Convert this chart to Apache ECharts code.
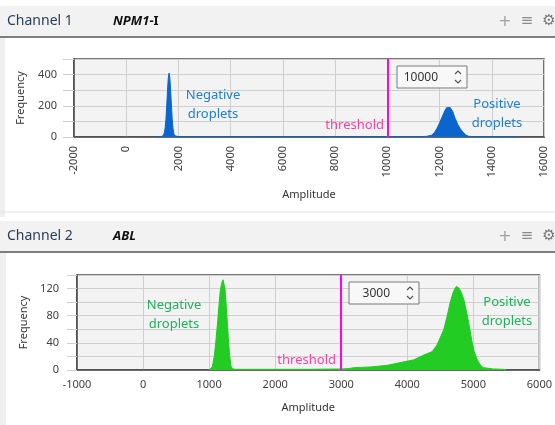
<!DOCTYPE html>
<html>
<head>
<meta charset="utf-8">
<script src="https://cdn.jsdelivr.net/npm/echarts@6/dist/echarts.min.js"></script>
<style>
  html, body { margin: 0; padding: 0; background: #ffffff; }
  #chart { width: 555px; height: 425px; }
</style>
</head>
<body>
<div id="chart"></div>
<script>
// Channel 1 (NPM1-I) histogram, amplitude vs frequency
const ch1Amplitude = [1150, 1250, 1350, 1400, 1430, 1460, 1490, 1520, 1550, 1580, 1610, 1640, 1670, 1700, 1730, 1760, 1790, 1820, 1850, 1900,
  2000, 3000, 4000, 5000, 6000, 7000, 8000, 9000, 10000, 11000, 11200, 11500, 11700, 11800, 11900, 12000, 12100, 12200, 12270, 12330,
  12400, 12500, 12600, 12700, 12800, 12900, 13000, 13100, 13300, 13600, 14000, 14500, 15000, 15050];
const ch1Frequency = [0, 1, 3, 6, 12, 28, 58, 112, 196, 296, 376, 410, 382, 300, 205, 118, 58, 24, 9, 3,
  2, 1.5, 1.5, 1, 1, 1, 1, 1, 1, 1.5, 2, 4, 12, 28, 55, 90, 130, 168, 188, 196,
  190, 165, 118, 80, 52, 30, 14, 5, 2, 1.5, 1, 1, 1, 0];
const ch1Threshold = 10000;

// Channel 2 (ABL)
const ch2Amplitude = [1000, 1020, 1050, 1080, 1100, 1130, 1150, 1170, 1190, 1210, 1225, 1240, 1255, 1270, 1290, 1310, 1330, 1350, 1400,
  2000, 2500, 3000, 3100, 3200, 3450, 3700, 3950, 4100, 4250, 4375, 4450, 4550, 4600, 4650, 4700, 4740, 4780, 4820, 4860,
  4900, 4940, 4975, 5010, 5050, 5100, 5150, 5300, 5450, 5500];
const ch2Frequency = [0, 1, 5, 22, 40, 72, 96, 118, 128, 133, 131, 120, 100, 78, 48, 22, 6, 2, 1,
  1, 1, 1.5, 2, 3.5, 4.5, 7, 12, 15, 22, 27, 37, 59, 78, 100, 116, 123, 121, 114, 102,
  84, 64, 44, 28, 17, 8, 3.5, 1.5, 1, 0];
const ch2Threshold = 3000;

// axis ranges
const ch1X = { min: -2000, max: 16000, step: 2000 };
const ch1Y = { min: 0, max: 500, step: 100, labelStep: 200 };
const ch2X = { min: -1000, max: 6000, step: 1000 };
const ch2Y = { min: 0, max: 140, step: 20, labelStep: 40 };

const FONT = "Noto Sans";
const gridColor = "#cfcfcf";
const axisColor = "#4a4a4a";
const labelColor = "#404040";

const zip = (xs, ys) => xs.map((x, i) => [x, ys[i]]);

function xAxisCfg(grid, r, rotate, nameGap, margin) {
    return {
        gridIndex: grid, type: "value", min: r.min, max: r.max, interval: r.step,
        name: "Amplitude", nameLocation: "middle", nameGap: nameGap,
        nameTextStyle: { fontSize: 11, color: "#333", fontFamily: FONT },
        axisLine: { show: true, onZero: false, lineStyle: { color: axisColor, width: 1.5 } },
        axisTick: { show: false },
        axisLabel: {
            rotate: rotate, fontSize: 11, color: labelColor, margin: margin, fontFamily: FONT,
            showMinLabel: true, showMaxLabel: true, formatter: (v) => String(v),
        },
        splitLine: { show: true, lineStyle: { color: gridColor, width: 1 } },
    };
}

function yAxisCfg(grid, r, tickLen, margin) {
    return {
        gridIndex: grid, type: "value", min: r.min, max: r.max, interval: r.step,
        name: "Frequency", nameLocation: "middle", nameGap: 48, nameRotate: 90,
        nameTextStyle: { fontSize: 11, color: "#333", fontFamily: FONT },
        axisLine: { show: true, onZero: false, lineStyle: { color: axisColor, width: 1.5 } },
        axisTick: { show: true, length: tickLen, lineStyle: { color: gridColor } },
        axisLabel: {
            fontSize: 11, color: labelColor, margin: margin, fontFamily: FONT,
            formatter: (v) => (v % r.labelStep === 0 ? String(v) : ""),
        },
        splitLine: { show: true, lineStyle: { color: gridColor, width: 1 } },
    };
}

function histSeries(idx, data, color, threshold) {
    return {
        type: "line", xAxisIndex: idx, yAxisIndex: idx, data: data,
        symbol: "none", smooth: false,
        lineStyle: { color: color, width: 1 },
        areaStyle: { color: color, opacity: 1 },
        markLine: {
            silent: true, symbol: "none", animation: false,
            label: { show: false },
            lineStyle: { color: "#ff00ff", width: 2, type: "solid" },
            data: [{ xAxis: threshold }],
        },
        z: 3,
    };
}

function header(y, h, title, gene) {
    return [
        { type: "rect", shape: { x: 0, y: y, width: 555, height: h }, style: { fill: "#f2f2f2" }, z: -5 },
        { type: "line", shape: { x1: 0, y1: y + h, x2: 555, y2: y + h }, style: { stroke: "#555", lineWidth: 1.5 }, z: -4 },
        { type: "text", x: 7, y: y + h / 2, style: { text: title, fontSize: 14, fill: "#2a3d5a", fontFamily: FONT, verticalAlign: "middle" } },
        {
            type: "text", x: 113, y: y + h / 2,
            style: {
                text: gene, verticalAlign: "middle", fontFamily: FONT,
                rich: {
                    i: { fontSize: 13, fontWeight: "bold", fontStyle: "italic", fill: "#111", fontFamily: FONT },
                    b: { fontSize: 13, fontWeight: "bold", fill: "#111", fontFamily: FONT },
                },
            },
        },
        { type: "text", x: 505, y: y + h / 2, style: { text: "+", fontSize: 16, fill: "#a0a0a0", align: "center", verticalAlign: "middle", fontFamily: "DejaVu Sans" } },
        { type: "text", x: 527, y: y + h / 2, style: { text: "≡", fontSize: 15, fill: "#8a8a8a", align: "center", verticalAlign: "middle", fontFamily: "DejaVu Sans" } },
        { type: "text", x: 549, y: y + h / 2, style: { text: "⚙", fontSize: 15, fill: "#777", align: "center", verticalAlign: "middle", fontFamily: "DejaVu Sans" } },
    ];
}

function spinner(x, y, value) {
    const cx = x + 61;
    return [
        { type: "rect", shape: { x: x, y: y, width: 70, height: 22 }, style: { fill: "#f8f8f8", stroke: "#7a7a7a", lineWidth: 1 }, z: 20 },
        { type: "text", x: x + 41, y: y + 11.5, style: { text: value, fontSize: 12, fill: "#333", align: "right", verticalAlign: "middle", fontFamily: FONT }, z: 21 },
        { type: "polyline", shape: { points: [[cx - 3, y + 8], [cx, y + 5], [cx + 3, y + 8]] }, style: { stroke: "#555", lineWidth: 1.2, fill: null }, z: 21 },
        { type: "polyline", shape: { points: [[cx - 3, y + 14], [cx, y + 17], [cx + 3, y + 14]] }, style: { stroke: "#555", lineWidth: 1.2, fill: null }, z: 21 },
    ];
}

function note(x, y, text, color, align) {
    return {
        type: "text", x: x, y: y, z: 20,
        style: { text: text, fontSize: 13, lineHeight: 19, fill: color, align: align, verticalAlign: "middle", fontFamily: FONT },
    };
}

const blue = "#0a66cc";
const blueText = "#1f80d2";
const green = "#22cc22";
const greenText = "#1fb05c";
const pink = "#ff3fa0";

const option = {
    animation: false,
    backgroundColor: "#ffffff",
    textStyle: { fontFamily: FONT },
    grid: [
        { left: 74, top: 59, width: 470, height: 78, show: true, backgroundColor: "#f3f3f3", borderColor: axisColor, borderWidth: 1.5 },
        { left: 77, top: 275, width: 466, height: 95, show: true, backgroundColor: "#f3f3f3", borderColor: axisColor, borderWidth: 1.5 },
    ],
    xAxis: [
        xAxisCfg(0, ch1X, 90, 52, 9),
        xAxisCfg(1, ch2X, 0, 32, 9),
    ],
    yAxis: [
        yAxisCfg(0, ch1Y, 11, 17),
        yAxisCfg(1, ch2Y, 10, 18),
    ],
    series: [
        histSeries(0, zip(ch1Amplitude, ch1Frequency), blue, ch1Threshold),
        histSeries(1, zip(ch2Amplitude, ch2Frequency), green, ch2Threshold),
    ],
    graphic: [
        { type: "rect", shape: { x: 0, y: 37, width: 5, height: 180 }, style: { fill: "#efefef" }, z: -6 },
        { type: "rect", shape: { x: 0, y: 253, width: 6, height: 180 }, style: { fill: "#efefef" }, z: -6 },
        { type: "line", shape: { x1: 0, y1: 212, x2: 555, y2: 212 }, style: { stroke: "#e2e2e2", lineWidth: 1 }, z: -6 },
        ...header(6, 31, "Channel 1", "{i|NPM1}{b|-I}"),
        ...header(221, 31, "Channel 2", "{i|ABL}"),
        ...spinner(397, 66, "10000"),
        ...spinner(349, 282, "3000"),
        note(213, 105, "Negative\ndroplets", blueText, "center"),
        note(497, 114, "Positive\ndroplets", blueText, "center"),
        note(384, 125, "threshold", pink, "right"),
        note(174, 315, "Negative\ndroplets", greenText, "center"),
        note(507, 312, "Positive\ndroplets", greenText, "center"),
        note(336, 360, "threshold", pink, "right"),
    ],
};

const chart = echarts.init(document.getElementById("chart"), null, { renderer: "canvas" });
chart.setOption(option);
</script>
</body>
</html>
